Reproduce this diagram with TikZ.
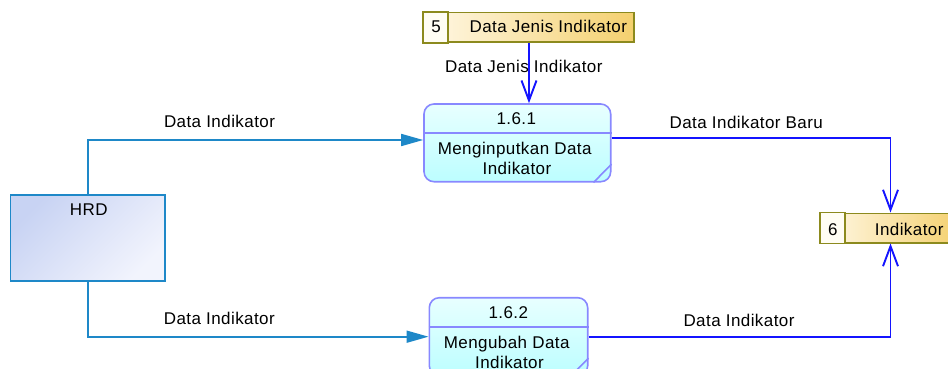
\documentclass[tikz,border=0pt]{standalone}
\usepackage{fontspec}
\setmainfont{Liberation Sans}[LetterSpace=2.5]
\usetikzlibrary{arrows.meta,calc}

\definecolor{hrdline}{HTML}{1E88C8}
\definecolor{hrdtop}{HTML}{C8D3F3}
\definecolor{hrdbot}{HTML}{F2F4FD}
\definecolor{procline}{HTML}{8888FF}
\definecolor{proctop}{HTML}{E8FFFF}
\definecolor{procbot}{HTML}{BCFEFF}
\definecolor{storeline}{HTML}{8C8A1E}
\definecolor{storelight}{HTML}{FFF8E6}
\definecolor{storegold}{HTML}{F4D06E}
\definecolor{storecell}{HTML}{FFFDF4}
\definecolor{flowblue}{HTML}{1414FF}

\begin{document}
\begin{tikzpicture}[x=1pt,y=-1pt,
  lbl/.style={font=\fontsize{17}{20}\selectfont, inner sep=0pt, anchor=base, text=black},
  entity/.style={draw=hrdline, line width=1.7pt, top color=hrdtop, bottom color=hrdbot,
    shading angle=45, inner sep=0pt},
  process/.style={draw=procline, line width=1.6pt, rounded corners=10pt,
    top color=proctop, bottom color=procbot, inner sep=0pt},
  procrule/.style={draw=procline, line width=1.6pt},
  store/.style={draw=storeline, line width=1.6pt, left color=storelight, right color=storegold,
    inner sep=0pt},
  storecellbox/.style={draw=storeline, line width=1.6pt, fill=storecell},
  flowin/.style={draw=hrdline, line width=1.7pt, -{Triangle[length=22pt,width=12pt]}},
  flowout/.style={draw=flowblue, line width=1.9pt,
    -{Straight Barb[length=20pt,width=15pt,line width=1.9pt]}}]
\useasboundingbox (0,0) rectangle (948,369);
\clip (0,0) rectangle (948,369);

% external entity
\node[entity, minimum width=154.5pt, minimum height=86.3pt] (hrd) at (87.75,237.85) {};
\node[lbl] (hrdname) at (88.8,215.7) {HRD};

% process 1.6.1
\node[process, minimum width=186.7pt, minimum height=77.7pt] (p1) at (517.35,142.85) {};
\draw[procrule] ($(p1.north west)+(0,30)$) -- ($(p1.north east)+(0,30)$);
\draw[procrule] ($(p1.south east)+(0,-18.4)$) -- ($(p1.south east)+(-18,0)$);
\node[lbl] (p1id) at (516.3,124) {1.6.1};
\node[lbl] (p1a) at (514.7,154.3) {Menginputkan Data};
\node[lbl] (p1b) at (517,174) {Indikator};

% process 1.6.2
\node[process, minimum width=158.4pt, minimum height=78pt] (p2) at (508.5,336.7) {};
\draw[procrule] ($(p2.north west)+(0,30)$) -- ($(p2.north east)+(0,30)$);
\draw[procrule] ($(p2.south east)+(0,-18.4)$) -- ($(p2.south east)+(-18,0)$);
\node[lbl] (p2id) at (508.3,318.3) {1.6.2};
\node[lbl] (p2a) at (506.7,348.3) {Mengubah Data};
\node[lbl] (p2b) at (509.5,368.6) {Indikator};

% data store 5
\node[store, minimum width=210pt, minimum height=29.6pt] (d5) at (529,27.5) {};
\draw[storecellbox] (d5.north west) rectangle ($(d5.south west)+(25,0)$);
\node[lbl] (d5id) at (436,32.3) {5};
\node[lbl] (d5name) at (548.3,32.3) {Data Jenis Indikator};

% data store 6
\node[store, minimum width=139pt, minimum height=29.4pt] (d6) at (890.5,228) {};
\draw[storecellbox] (d6.north west) rectangle ($(d6.south west)+(25,0)$);
\node[lbl] (d6id) at (832.8,235) {6};
\node[lbl] (d6name) at (909.2,235) {Indikator};

% data flows
\draw[flowin] (hrd.north) |- ($(p1.west)+(0,-2.85)$);
\draw[flowin] (hrd.south) |- (p2.west);
\draw[flowout] (d5.south) -- (d5.south |- p1.north);
\draw[flowout] ($(p1.east)+(0,-5.15)$) -| (d6.north);
\draw[flowout] (p2.east) -| (d6.south);

% flow labels
\node[lbl] (f1) at (219.5,127.5) {Data Indikator};
\node[lbl] (f2) at (219.3,324) {Data Indikator};
\node[lbl] (f3) at (523.8,72.7) {Data Jenis Indikator};
\node[lbl] (f4) at (746.3,128.3) {Data Indikator Baru};
\node[lbl] (f5) at (739,326.7) {Data Indikator};
\end{tikzpicture}
\end{document}
